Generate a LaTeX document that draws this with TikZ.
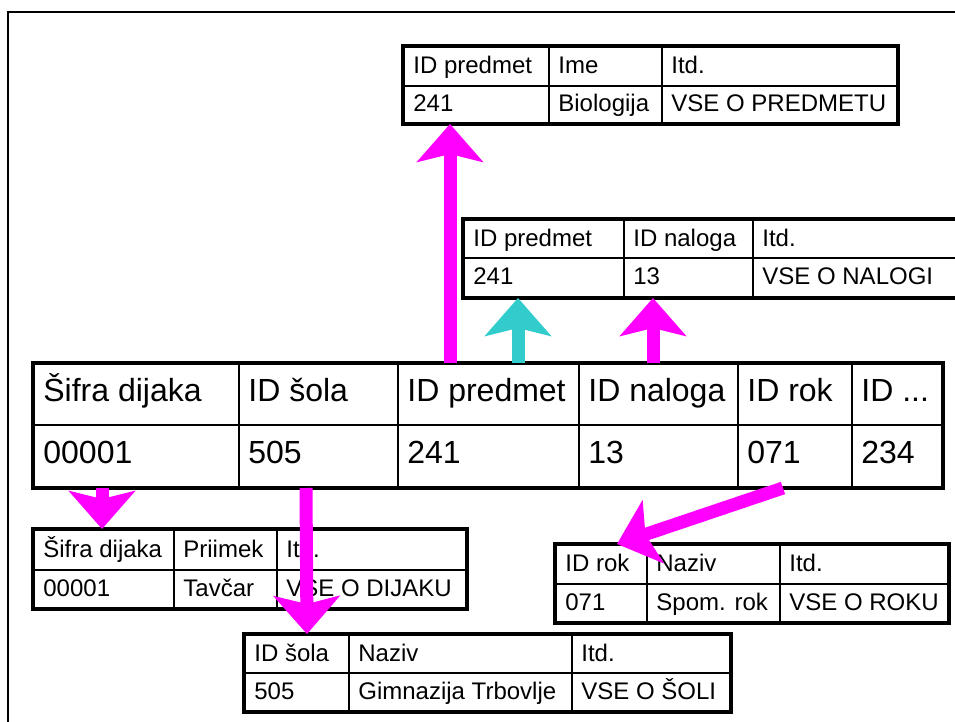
\documentclass[tikz,border=0pt]{standalone}
\usepackage{fontspec}
\setmainfont{Liberation Sans}
\usetikzlibrary{arrows.meta}

\definecolor{roza}{HTML}{FF00FF}
\definecolor{turkizna}{HTML}{33CCCC}

\tikzset{
  celica/.style={draw, line width=1pt, inner sep=0pt},
  besedilo/.style={inner xsep=5pt, inner ysep=0pt, text height=0.9em, text depth=0.18em},
  rob/.style={line width=2pt},
  puscica/.style={line width=6.5pt, -{Stealth[length=19pt,width=33pt,inset=4pt]}},
}

% polje tabele: ime, x1, y1, x2, y2, besedilo
\newcommand\polje[6]{%
  \pgfmathsetmacro\sirina{(#4-#2)/2}%
  \pgfmathsetmacro\visina{(#5-#3)/2}%
  \node[celica, anchor=north west, minimum width=\sirina pt, minimum height=\visina pt] (#1) at (#2,#3) {};
  \node[besedilo, anchor=west] (#1-t) at (#1.west) {#6};
}

\begin{document}
\begin{tikzpicture}[x=0.5pt,y=-0.5pt]
\clip (0,0) rectangle (955,722);
\draw[line width=1.25pt] (8,740) -- (8,12) -- (970,12);

\begin{scope}[font=\fontsize{12}{14}\selectfont]
% predmet
\polje{p11}{403}{46}{548}{85}{ID predmet}
\polje{p12}{548}{46}{661}{85}{Ime}
\polje{p13}{661}{46}{896}{85}{Itd.}
\polje{p21}{403}{85}{548}{122}{241}
\polje{p22}{548}{85}{661}{122}{Biologija}
\polje{p23}{661}{85}{896}{122}{VSE O PREDMETU}
\draw[rob] (p11.north west) rectangle (p23.south east);
% naloga
\polje{n11}{463}{219}{623}{257}{ID predmet}
\polje{n12}{623}{219}{752}{257}{ID naloga}
\polje{n13}{752}{219}{1000}{257}{Itd.}
\polje{n21}{463}{257}{623}{296}{241}
\polje{n22}{623}{257}{752}{296}{13}
\polje{n23}{752}{257}{1000}{296}{VSE O NALOGI}
\draw[rob] (n11.north west) rectangle (n23.south east);
% dijak
\polje{d11}{33}{529}{173}{569}{Šifra dijaka}
\polje{d12}{173}{529}{276}{569}{Priimek}
\polje{d13}{276}{529}{465}{569}{Itd.}
\polje{d21}{33}{569}{173}{607}{00001}
\polje{d22}{173}{569}{276}{607}{Tavčar}
\polje{d23}{276}{569}{465}{607}{VSE O DIJAKU}
\draw[rob] (d11.north west) rectangle (d23.south east);
% sola
\polje{s11}{244}{634}{348}{672}{ID šola}
\polje{s12}{348}{634}{571}{672}{Naziv}
\polje{s13}{571}{634}{729}{672}{Itd.}
\polje{s21}{244}{672}{348}{710}{505}
\polje{s22}{348}{672}{571}{710}{Gimnazija Trbovlje}
\polje{s23}{571}{672}{729}{710}{VSE O ŠOLI}
\draw[rob] (s11.north west) rectangle (s23.south east);
% rok
\polje{r11}{555}{544}{646}{583}{ID rok}
\polje{r12}{646}{544}{779}{583}{Naziv}
\polje{r13}{779}{544}{947}{583}{Itd.}
\polje{r21}{555}{583}{646}{621}{071}
\polje{r22}{646}{583}{779}{621}{Spom. rok}
\polje{r23}{779}{583}{947}{621}{VSE O ROKU}
\draw[rob] (r11.north west) rectangle (r23.south east);
\end{scope}

% glavna tabela
\begin{scope}[font=\fontsize{16}{19}\selectfont]
\polje{g11}{33}{363}{238}{424}{Šifra dijaka}
\polje{g12}{238}{363}{397}{424}{ID šola}
\polje{g13}{397}{363}{578}{424}{ID predmet}
\polje{g14}{578}{363}{737}{424}{ID naloga}
\polje{g15}{737}{363}{851}{424}{ID rok}
\polje{g16}{851}{363}{941}{424}{ID ...}
\polje{g21}{33}{424}{238}{486}{00001}
\polje{g22}{238}{424}{397}{486}{505}
\polje{g23}{397}{424}{578}{486}{241}
\polje{g24}{578}{424}{737}{486}{13}
\polje{g25}{737}{424}{851}{486}{071}
\polje{g26}{851}{424}{941}{486}{234}
\draw[rob] (g11.north west) rectangle (g26.south east);
\end{scope}

% puscice
\draw[puscica, roza] ([xshift=26.5pt]g13.north west) -- ([xshift=23.5pt]p21.south west);
\draw[puscica, turkizna] ([xshift=60.5pt]g13.north west) -- ([xshift=27.5pt]n21.south west);
\draw[puscica, roza] ([xshift=37.5pt]g14.north west) -- ([xshift=15pt]n22.south west);
\draw[puscica, roza] ([xshift=34.5pt]g21.south west) -- ([xshift=34.5pt]d11.north west);
\draw[puscica, roza] ([xshift=34pt]g22.south west) -- ([xshift=31.5pt]s11.north west);
\draw[puscica, roza] ([xshift=23pt]g25.south west) -- ([xshift=31pt]r11.north west);
\end{tikzpicture}
\end{document}
